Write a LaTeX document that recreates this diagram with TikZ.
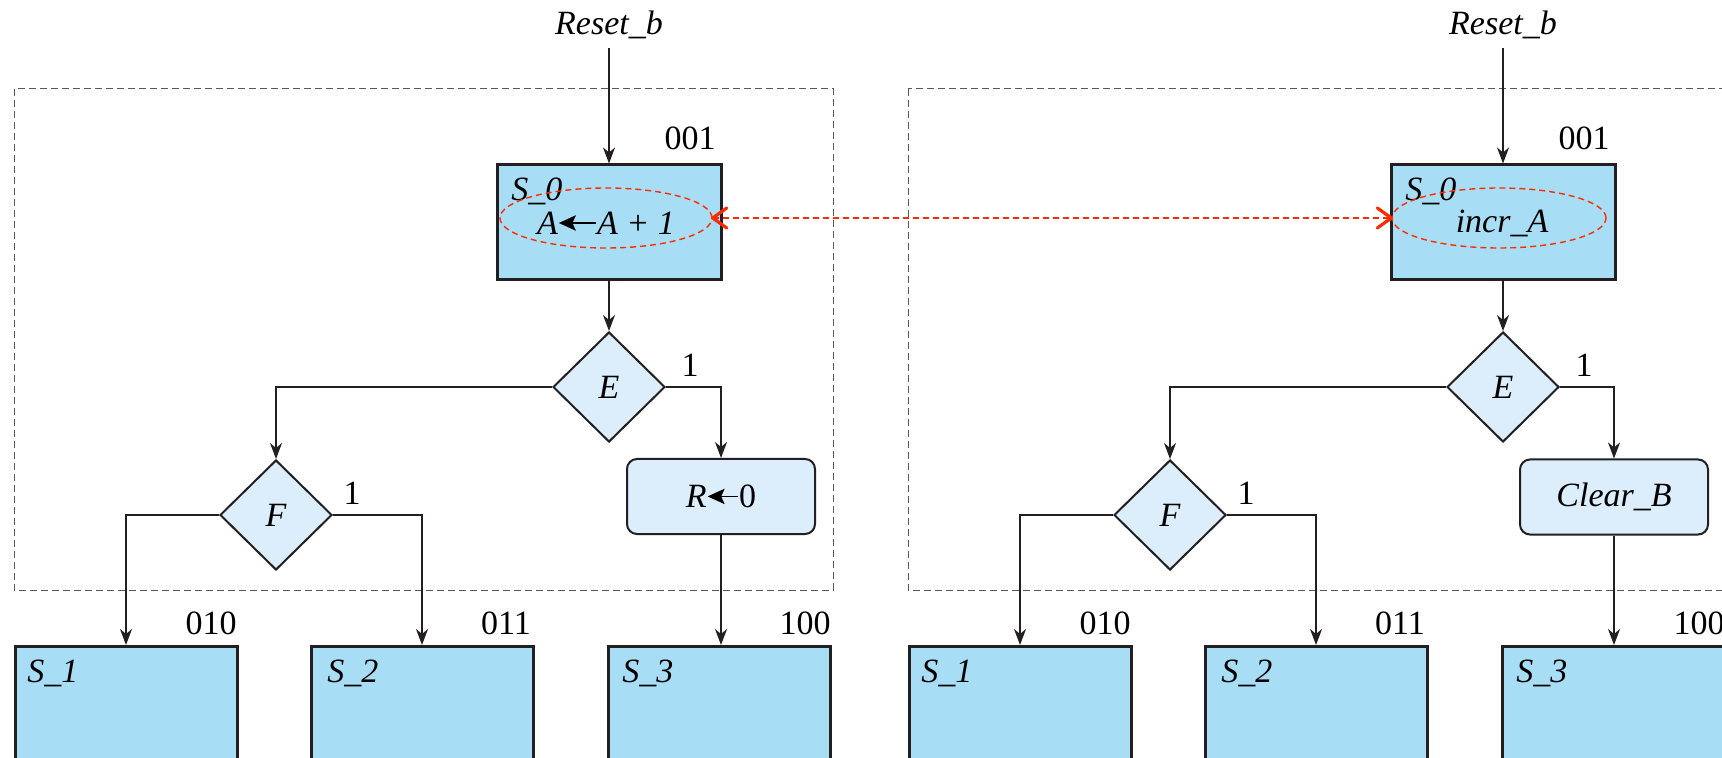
\documentclass[tikz,border=0pt]{standalone}
\usepackage{fontspec}
\setmainfont{Liberation Serif}
\usetikzlibrary{arrows.meta,shapes.geometric,calc}
\definecolor{sfill}{HTML}{A8DEF5}
\definecolor{dfill}{HTML}{DCEEFB}
\definecolor{edge}{HTML}{231F20}
\definecolor{redl}{HTML}{FF2A00}
\newcommand\larr[1]{\tikz[baseline=-0.33em]\draw[line width=0.9pt,-{Stealth[length=0.5em,width=0.45em,inset=0.1em]}] (#1,0) -- (0,0);}
\begin{document}
\begin{tikzpicture}[x=0.5pt,y=-0.5pt,
  font=\fontsize{17}{20}\selectfont,
  state/.style={draw=edge, line width=1.5pt, fill=sfill, rectangle, inner sep=0pt, minimum width=111pt, minimum height=70pt},
  sZero/.style={draw=edge, line width=1.5pt, fill=sfill, rectangle, inner sep=0pt, minimum width=112pt, minimum height=57.5pt},
  dec/.style={draw=edge, line width=1pt, fill=dfill, diamond, minimum width=56pt, minimum height=55pt, inner sep=0pt},
  cond/.style={draw=edge, line width=1pt, fill=dfill, rectangle, rounded corners=5pt, minimum width=94pt, minimum height=37.5pt, inner sep=0pt},
  conn/.style={draw=edge, line width=0.75pt, -{Stealth[length=8pt,width=6pt,inset=2.5pt]}},
  frame/.style={draw=black!65, line width=0.5pt, dash pattern=on 3.5pt off 2pt},
  lbl/.style={inner sep=0pt, font=\fontsize{17}{20}\selectfont\itshape},
  num/.style={inner sep=0pt, font=\fontsize{17}{20}\selectfont},
  oval/.style={draw=redl, line width=0.7pt, dash pattern=on 3pt off 2pt, ellipse, inner sep=0pt},
  link/.style={draw=redl, line width=0.7pt, dash pattern=on 3pt off 2pt},
  barb/.style={draw=redl, line width=1.6pt, line cap=round, line join=round},
]
\useasboundingbox (0,0) rectangle (1722,758);
\clip (0,0) rectangle (1722,758);
\fill[white] (0,0) rectangle (1722,758);

% ---------------- left chart ----------------
\draw[frame] (14,89) rectangle (833,590);
\node[lbl] (resetL) at (609,25) {Reset\_b};
\coordinate (rsL) at (609,48);
\node[sZero] (s0L) at (609,222.5) {};
\node[num] (c001L) at (690,138) {001};
\node[lbl, anchor=west] (s0Ltxt) at (511,191) {S\_0};
\node[lbl] (opL) at (606,223) {A\larr{1.1em}A + 1};
\node[oval, minimum width=106pt, minimum height=30pt] (ovL) at (606,218) {};
\node[dec] (EL) at (609,387) {\itshape E};
\node[num] (oneEL) at (690,365) {1};
\node[cond] (RL) at (721,496.5) {\itshape R\larr{0.9em}\upshape 0};
\node[dec] (FL) at (276,515) {\itshape F};
\node[num] (oneFL) at (352,493) {1};
\node[state, anchor=north] (s1L) at (126,645) {};
\node[state, anchor=north] (s2L) at (422,645) {};
\node[state, anchor=north] (s3L) at (719,645) {};
\node[num] (c010L) at (211,623) {010};
\node[num] (c011L) at (506,623) {011};
\node[num] (c100L) at (805,623) {100};
\node[lbl, anchor=west] (s1Ltxt) at (27,673) {S\_1};
\node[lbl, anchor=west] (s2Ltxt) at (327,673) {S\_2};
\node[lbl, anchor=west] (s3Ltxt) at (622,673) {S\_3};

\draw[conn] (rsL) -- (s0L.north);
\draw[conn] (s0L.south) -- (EL.north);
\draw[conn] (EL.east) -| (RL.north);
\draw[conn] (EL.west) -| (FL.north);
\draw[conn] (FL.west) -| (s1L.north);
\draw[conn] (FL.east) -| (s2L.north);
\draw[conn] (RL.south) -- (RL.south |- s3L.north);

% ---------------- right chart ----------------
\draw[frame] (908,89) rectangle (1740,590);
\node[lbl] (resetR) at (1503,25) {Reset\_b};
\coordinate (rsR) at (1503,48);
\node[sZero] (s0R) at (1503,222.5) {};
\node[num] (c001R) at (1584,138) {001};
\node[lbl, anchor=west] (s0Rtxt) at (1405,191) {S\_0};
\node[lbl] (opR) at (1502,223) {incr\_A};
\node[oval, minimum width=107pt, minimum height=30pt] (ovR) at (1499,218) {};
\node[dec] (ER) at (1503,387) {\itshape E};
\node[num] (oneER) at (1584,365) {1};
\node[cond] (RR) at (1614,497) {\itshape Clear\_B};
\node[dec] (FR) at (1170,515) {\itshape F};
\node[num] (oneFR) at (1246,493) {1};
\node[state, anchor=north] (s1R) at (1020,645) {};
\node[state, anchor=north] (s2R) at (1316,645) {};
\node[state, anchor=north] (s3R) at (1613,645) {};
\node[num] (c010R) at (1105,623) {010};
\node[num] (c011R) at (1400,623) {011};
\node[num] (c100R) at (1699,623) {100};
\node[lbl, anchor=west] (s1Rtxt) at (921,673) {S\_1};
\node[lbl, anchor=west] (s2Rtxt) at (1221,673) {S\_2};
\node[lbl, anchor=west] (s3Rtxt) at (1516,673) {S\_3};

\draw[conn] (rsR) -- (s0R.north);
\draw[conn] (s0R.south) -- (ER.north);
\draw[conn] (ER.east) -| (RR.north);
\draw[conn] (ER.west) -| (FR.north);
\draw[conn] (FR.west) -| (s1R.north);
\draw[conn] (FR.east) -| (s2R.north);
\draw[conn] (RR.south) -- (RR.south |- s3R.north);

% ---------------- correspondence ----------------
\draw[link] (ovL.east) -- (ovR.west);
\draw[barb] ($(ovL.east)+(14,-10)$) -- (ovL.east) -- ($(ovL.east)+(14,10)$);
\draw[barb] ($(ovR.west)+(-14,-10)$) -- (ovR.west) -- ($(ovR.west)+(-14,10)$);
\end{tikzpicture}
\end{document}
